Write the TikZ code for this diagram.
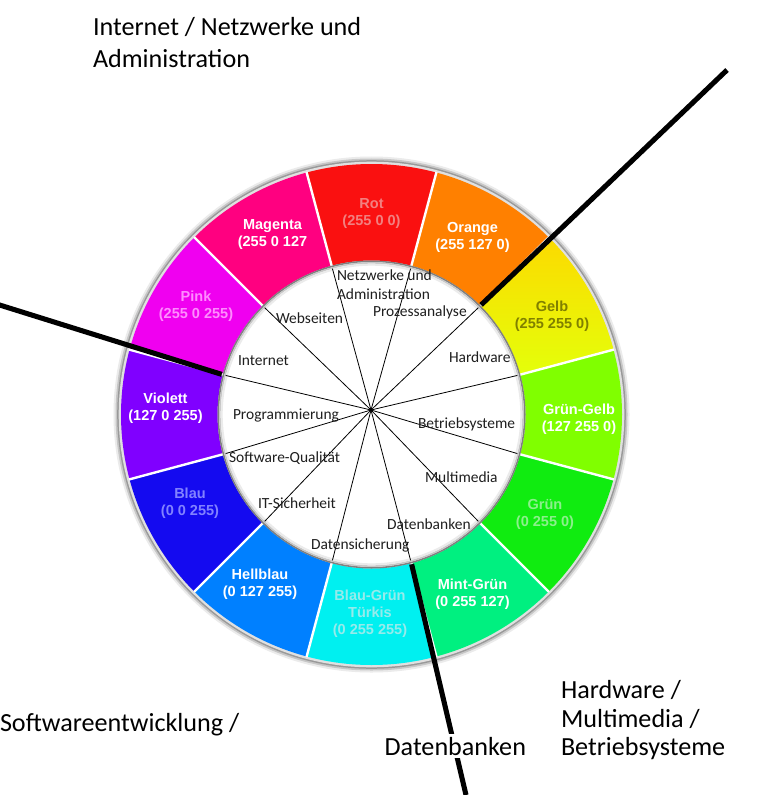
\documentclass[tikz,border=0pt]{standalone}
\usepackage{fontspec}
\setmainfont{Carlito}
\newfontfamily\segfont{Liberation Sans}
\definecolor{cRot}{RGB}{250,16,16}
\definecolor{cOrange}{RGB}{255,128,0}
\definecolor{cGelb}{RGB}{240,240,0}
\definecolor{gelbA}{RGB}{252,218,0}
\definecolor{gelbB}{RGB}{228,255,10}
\definecolor{cGruenGelb}{RGB}{128,255,0}
\definecolor{cGruen}{RGB}{16,236,16}
\definecolor{cMint}{RGB}{0,240,128}
\definecolor{cTuerkis}{RGB}{0,240,240}
\definecolor{cHellblau}{RGB}{0,128,255}
\definecolor{cBlau}{RGB}{20,10,240}
\definecolor{cViolett}{RGB}{128,0,255}
\definecolor{cPink}{RGB}{240,0,240}
\definecolor{cMagenta}{RGB}{255,0,128}
\definecolor{tRot}{RGB}{242,128,128}
\definecolor{tGelb}{RGB}{128,128,0}
\definecolor{tGruen}{RGB}{140,240,140}
\definecolor{tTuerkis}{RGB}{150,235,235}
\definecolor{tBlau}{RGB}{130,130,255}
\definecolor{tPink}{RGB}{255,140,255}
\tikzset{
  bigl/.style={font=\fontsize{19.6}{24}\selectfont, anchor=base west, text=black},
  innl/.style={font=\fontsize{11.6}{13}\selectfont, anchor=base west, text=black!88},
  segl/.style={font=\segfont\bfseries\fontsize{10.9}{12.75}\selectfont, align=center, anchor=center},
  thinl/.style={line width=0.6pt, black},
  thickl/.style={line width=3.8pt, black},
}
\begin{document}
\begin{tikzpicture}[x=0.75pt, y=-0.75pt, inner sep=0pt, outer sep=0pt]
\useasboundingbox (0,0) rectangle (757,795);
\fill[white] (0,0) rectangle (757,795);

\begin{scope}[shift={(371.5,414.5)}, yscale=-1]
  \fill[black!8] (0,0) circle[radius=258];
  \fill[black!22] (0,0) circle[radius=256];
  \fill[black!40] (0,0) circle[radius=254.3];
  \fill[white!88!black] (0,0) circle[radius=252.8];
  \fill[white] (0,0) circle[radius=153];
  \foreach \c [count=\i from 0] in {cRot,cOrange,cGelb,cGruenGelb,cGruen,cMint,cTuerkis,cHellblau,cBlau,cViolett,cPink,cMagenta} {
    \pgfmathsetmacro\a{90-30*\i}
    \fill[\c] ({\a-15}:154) arc[start angle={\a-15}, end angle={\a+15}, radius=154]
      -- ({\a+15}:250.5) arc[start angle={\a+15}, end angle={\a-15}, radius=250.5] -- cycle;
  }
  \shade[top color=gelbA, bottom color=gelbB] (15:154) arc[start angle=15, end angle=45, radius=154]
      -- (45:250.5) arc[start angle=45, end angle=15, radius=250.5] -- cycle;
  \foreach \i in {0,...,11} {
    \draw[white, line width=1.8pt] ({15+30*\i}:153) -- ({15+30*\i}:251);
  }
  \draw[black!50, line width=1.2pt] (0,0) circle[radius=153.2];
  \draw[black!22, line width=1.2pt] (0,0) circle[radius=151.6];
  \draw[black!8, line width=1.5pt] (0,0) circle[radius=149.8];
  \foreach \i in {0,...,11} {
    \coordinate (b\i) at ({15+30*\i}:151);
  }
  \coordinate (k45) at (45:155);
  \coordinate (k165) at (165:155);
  \coordinate (k285) at (-75:155);
\end{scope}

% thin spokes
\coordinate (cv) at (371,410);
\foreach \i in {0,...,11} {
  \draw[thinl] (cv) -- (b\i);
}

% thick dividers
\coordinate (e1) at (727,70);
\coordinate (e2) at (-2,304.5);
\coordinate (e3) at (466,795);
\draw[thickl] (k45) -- (e1);
\draw[thickl] (e2) -- (k165);
\draw[thickl] (k285) -- (e3);

% segment labels
\node[segl, text=tRot] (sRot) at (371.5,214) {Rot\\(255 0 0)};
\node[segl, text=white] (sOrange) at (472.5,237) {Orange\\(255 127 0)};
\node[segl, text=tGelb] (sGelb) at (552,316) {Gelb\\(255 255 0)};
\node[segl, text=white] (sGG) at (579,419) {Grün-Gelb\\(127 255 0)};
\node[segl, text=tGruen] (sGruen) at (545,514) {Grün\\(0 255 0)};
\node[segl, text=white] (sMint) at (472.5,594.5) {Mint-Grün\\(0 255 127)};
\node[segl, text=tTuerkis] (sTuerkis) at (370,614) {Blau-Grün\\Türkis\\(0 255 255)};
\node[segl, text=white] (sHell) at (260,584.5) {Hellblau\\(0 127 255)};
\node[segl, text=tBlau] (sBlau) at (190,503.5) {Blau\\(0 0 255)};
\node[segl, text=white] (sViolett) at (165.5,408) {Violett\\(127 0 255)};
\node[segl, text=tPink] (sPink) at (196,306) {Pink\\(255 0 255)};
\node[segl, text=white] (sMagenta) at (272.5,235) {Magenta\\(255 0 127};

% inner labels
\node[innl] (iNetz) at (337,280) {Netzwerke und};
\node[innl] (iAdmin) at (337,299) {Administration};
\node[innl] (iProz) at (373,316) {Prozessanalyse};
\node[innl] (iWeb) at (276,323) {Webseiten};
\node[innl] (iInt) at (238,365) {Internet};
\node[innl] (iHard) at (449,362) {Hardware};
\node[innl] (iProg) at (233,419) {Programmierung};
\node[innl] (iBetr) at (418,428) {Betriebsysteme};
\node[innl] (iSQ) at (229,462) {Software-Qualität};
\node[innl] (iMulti) at (425,482) {Multimedia};
\node[innl] (iIT) at (258,508) {IT-Sicherheit};
\node[innl] (iDB) at (387,529) {Datenbanken};
\node[innl] (iDS) at (311,549) {Datensicherung};

% outer category labels
\node[bigl] (tInet1) at (93,36) {Internet / Netzwerke und};
\node[bigl] (tInet2) at (93,68) {Administration};
\node[bigl] (tSoft) at (0,731) {Softwareentwicklung /};
\node[bigl, fill=white, inner sep=2pt] (tDB) at (382,755) {Datenbanken};
\node[bigl] (tHW1) at (561,698) {Hardware /};
\node[bigl] (tHW2) at (561,727) {Multimedia /};
\node[bigl] (tHW3) at (561,755) {Betriebsysteme};
\end{tikzpicture}
\end{document}
